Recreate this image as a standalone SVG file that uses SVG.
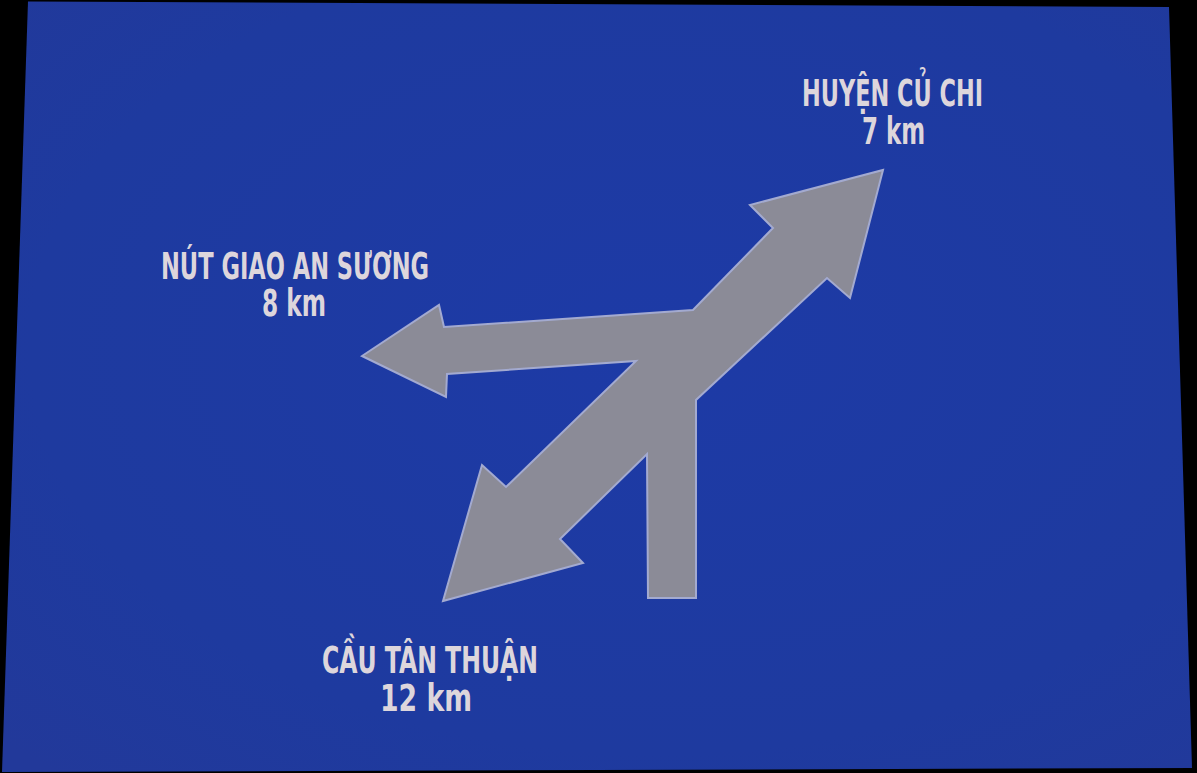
<svg xmlns="http://www.w3.org/2000/svg" width="1197" height="773" viewBox="0 0 1197 773">
<defs>
<style>
.lbl{font-family:"DejaVu Sans Condensed","DejaVu Sans","Liberation Sans",sans-serif;font-stretch:condensed;font-weight:bold;font-size:37px;fill:#ddd6dc;text-anchor:middle}
.arrow{fill:#8b8b97;stroke:#a3aad0;stroke-width:2;stroke-linejoin:miter}
</style>
<radialGradient id="bg" cx="0.55" cy="0.45" r="0.75">
<stop offset="0" stop-color="#1d3aa6"/>
<stop offset="0.7" stop-color="#1e3a9f"/>
<stop offset="1" stop-color="#22399a"/>
</radialGradient>
</defs>
<rect x="0" y="0" width="1197" height="773" fill="#000"/>
<polygon id="sign" points="28,1.5 1169,7 1192,768 2,772" fill="url(#bg)"/>
<g id="arrows">
<polygon class="arrow" points="883,170 850,298 827,278 696,400 696,598 648,598 647,454 560,539 583,563 443,601 482,465 506,487 636,361 447,374 446,397 362,356 439,305 444,327 693,310 773,228 750,205"/>
</g>
<g id="label-cu-chi">
<text class="lbl" x="892.5" y="106" textLength="181" lengthAdjust="spacingAndGlyphs">HUYỆN CỦ CHI</text>
<text class="lbl" x="893.5" y="144" textLength="63" lengthAdjust="spacingAndGlyphs">7 km</text>
</g>
<g id="label-an-suong">
<text class="lbl" x="295" y="279" textLength="268" lengthAdjust="spacingAndGlyphs">NÚT GIAO AN SƯƠNG</text>
<text class="lbl" x="294" y="316" textLength="64" lengthAdjust="spacingAndGlyphs">8 km</text>
</g>
<g id="label-tan-thuan">
<text class="lbl" x="430" y="673" textLength="216" lengthAdjust="spacingAndGlyphs">CẦU TÂN THUẬN</text>
<text class="lbl" x="426" y="711" textLength="92" lengthAdjust="spacingAndGlyphs">12 km</text>
</g>
</svg>
